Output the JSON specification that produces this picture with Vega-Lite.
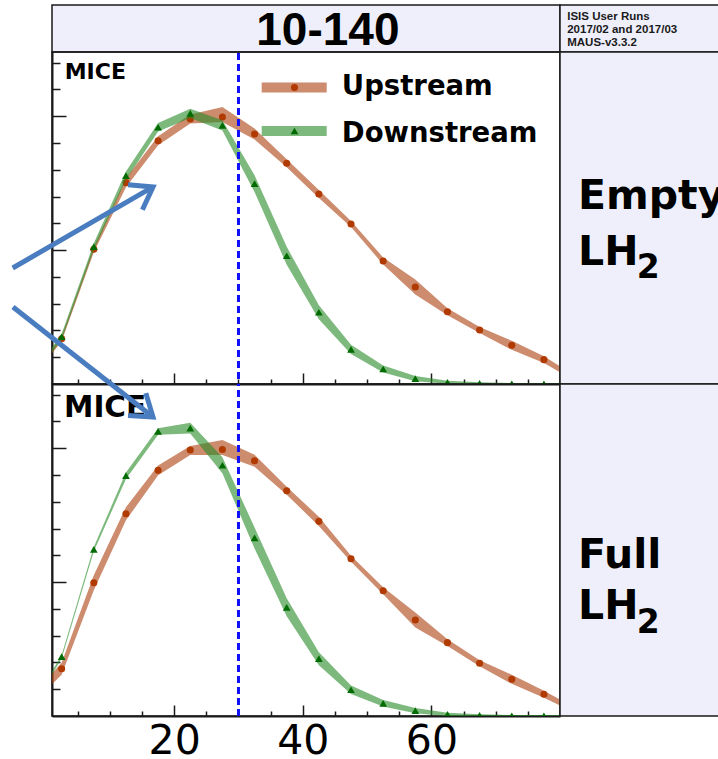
{
  "$schema": "https://vega.github.io/schema/vega-lite/v6.json",
  "background": "white",
  "padding": {"left": 1, "top": 4, "right": 0, "bottom": 0},
  "columns": 2,
  "spacing": 0,
  "bounds": "flush",
  "config": {
    "view": {"stroke": "#1a1a1a", "strokeWidth": 1.5},
    "text": {"font": "DejaVu Sans", "color": "#000000"},
    "axis": {"title": null, "grid": false, "domainColor": "#1a1a1a", "domainWidth": 2, "tickColor": "#1a1a1a", "tickWidth": 1.5, "labelOverlap": false, "labelFlush": false}
  },
  "datasets": {
    "curves": [
      {"p": "Empty", "s": "Upstream", "x": -2.5, "y": 3, "lo": 1.5, "hi": 4.5},
      {"p": "Empty", "s": "Upstream", "x": 2.5, "y": 33.8, "lo": 31.9, "hi": 35.7},
      {"p": "Empty", "s": "Upstream", "x": 7.5, "y": 100.6, "lo": 98.4, "hi": 102.8},
      {"p": "Empty", "s": "Upstream", "x": 12.5, "y": 150.4, "lo": 147.0, "hi": 153.8},
      {"p": "Empty", "s": "Upstream", "x": 17.5, "y": 181.7, "lo": 178.3, "hi": 185.1},
      {"p": "Empty", "s": "Upstream", "x": 22.5, "y": 198.0, "lo": 194.6, "hi": 201.4},
      {"p": "Empty", "s": "Upstream", "x": 27.5, "y": 199.4, "lo": 195.7, "hi": 206.9},
      {"p": "Empty", "s": "Upstream", "x": 32.5, "y": 186.7, "lo": 182.6, "hi": 190.8},
      {"p": "Empty", "s": "Upstream", "x": 37.5, "y": 164.9, "lo": 161.9, "hi": 167.9},
      {"p": "Empty", "s": "Upstream", "x": 42.5, "y": 141.9, "lo": 138.9, "hi": 144.9},
      {"p": "Empty", "s": "Upstream", "x": 47.5, "y": 119.5, "lo": 117.3, "hi": 121.7},
      {"p": "Empty", "s": "Upstream", "x": 52.5, "y": 91.9, "lo": 89.3, "hi": 94.5},
      {"p": "Empty", "s": "Upstream", "x": 57.5, "y": 72.5, "lo": 66.9, "hi": 78.1},
      {"p": "Empty", "s": "Upstream", "x": 62.5, "y": 54.0, "lo": 51.4, "hi": 56.6},
      {"p": "Empty", "s": "Upstream", "x": 67.5, "y": 40.3, "lo": 38.1, "hi": 42.5},
      {"p": "Empty", "s": "Upstream", "x": 72.5, "y": 28.9, "lo": 25.5, "hi": 32.3},
      {"p": "Empty", "s": "Upstream", "x": 77.5, "y": 18.2, "lo": 15.6, "hi": 20.8},
      {"p": "Empty", "s": "Upstream", "x": 82.5, "y": 4, "lo": 2.1, "hi": 5.9},
      {"p": "Empty", "s": "Downstream", "x": -2.5, "y": 3, "lo": 1.9, "hi": 4.1},
      {"p": "Empty", "s": "Downstream", "x": 2.5, "y": 35.3, "lo": 33.1, "hi": 37.5},
      {"p": "Empty", "s": "Downstream", "x": 7.5, "y": 102.6, "lo": 100.1, "hi": 105.1},
      {"p": "Empty", "s": "Downstream", "x": 12.5, "y": 155.6, "lo": 152.5, "hi": 158.7},
      {"p": "Empty", "s": "Downstream", "x": 17.5, "y": 191.8, "lo": 188.6, "hi": 195.0},
      {"p": "Empty", "s": "Downstream", "x": 22.5, "y": 202.2, "lo": 198.7, "hi": 205.7},
      {"p": "Empty", "s": "Downstream", "x": 27.5, "y": 193.2, "lo": 189.3, "hi": 197.1},
      {"p": "Empty", "s": "Downstream", "x": 32.5, "y": 149.7, "lo": 143.4, "hi": 156.0},
      {"p": "Empty", "s": "Downstream", "x": 37.5, "y": 95.8, "lo": 89.1, "hi": 102.5},
      {"p": "Empty", "s": "Downstream", "x": 42.5, "y": 53.6, "lo": 48.4, "hi": 58.8},
      {"p": "Empty", "s": "Downstream", "x": 47.5, "y": 25.9, "lo": 22.4, "hi": 29.4},
      {"p": "Empty", "s": "Downstream", "x": 52.5, "y": 11.2, "lo": 8.6, "hi": 13.8},
      {"p": "Empty", "s": "Downstream", "x": 57.5, "y": 4.0, "lo": 2.1, "hi": 5.9},
      {"p": "Empty", "s": "Downstream", "x": 62.5, "y": 1.3, "lo": 0.2, "hi": 2.4},
      {"p": "Empty", "s": "Downstream", "x": 67.5, "y": 0.5, "lo": -0.25, "hi": 1.25},
      {"p": "Empty", "s": "Downstream", "x": 72.5, "y": 0.2, "lo": -0.36, "hi": 0.76},
      {"p": "Empty", "s": "Downstream", "x": 77.5, "y": 0.1, "lo": -0.46, "hi": 0.66},
      {"p": "Empty", "s": "Downstream", "x": 82.5, "y": 0.05, "lo": -0.5, "hi": 0.6},
      {"p": "Full", "s": "Upstream", "x": -2.5, "y": 10, "lo": 7, "hi": 13},
      {"p": "Full", "s": "Upstream", "x": 2.5, "y": 35.3, "lo": 30.8, "hi": 39.8},
      {"p": "Full", "s": "Upstream", "x": 7.5, "y": 99.6, "lo": 94.0, "hi": 105.2},
      {"p": "Full", "s": "Upstream", "x": 12.5, "y": 151.1, "lo": 146.2, "hi": 156.0},
      {"p": "Full", "s": "Upstream", "x": 17.5, "y": 183.5, "lo": 179.8, "hi": 187.2},
      {"p": "Full", "s": "Upstream", "x": 22.5, "y": 198.7, "lo": 195.0, "hi": 201.7},
      {"p": "Full", "s": "Upstream", "x": 27.5, "y": 199.1, "lo": 195.0, "hi": 206.2},
      {"p": "Full", "s": "Upstream", "x": 32.5, "y": 190.7, "lo": 186.2, "hi": 195.2},
      {"p": "Full", "s": "Upstream", "x": 37.5, "y": 168.3, "lo": 165.3, "hi": 171.3},
      {"p": "Full", "s": "Upstream", "x": 42.5, "y": 145.4, "lo": 142.0, "hi": 148.8},
      {"p": "Full", "s": "Upstream", "x": 47.5, "y": 117.5, "lo": 115.3, "hi": 119.7},
      {"p": "Full", "s": "Upstream", "x": 52.5, "y": 93.6, "lo": 91.0, "hi": 96.2},
      {"p": "Full", "s": "Upstream", "x": 57.5, "y": 71.7, "lo": 66.1, "hi": 77.3},
      {"p": "Full", "s": "Upstream", "x": 62.5, "y": 54.8, "lo": 52.2, "hi": 57.4},
      {"p": "Full", "s": "Upstream", "x": 67.5, "y": 39.4, "lo": 37.2, "hi": 41.6},
      {"p": "Full", "s": "Upstream", "x": 72.5, "y": 27.4, "lo": 24.0, "hi": 30.8},
      {"p": "Full", "s": "Upstream", "x": 77.5, "y": 16.2, "lo": 13.6, "hi": 18.8},
      {"p": "Full", "s": "Upstream", "x": 82.5, "y": 4, "lo": 2.1, "hi": 5.9},
      {"p": "Full", "s": "Downstream", "x": -2.5, "y": 4, "lo": 3.25, "hi": 4.75},
      {"p": "Full", "s": "Downstream", "x": 2.5, "y": 44.3, "lo": 43.0, "hi": 45.6},
      {"p": "Full", "s": "Downstream", "x": 7.5, "y": 124.5, "lo": 122.8, "hi": 126.2},
      {"p": "Full", "s": "Downstream", "x": 12.5, "y": 179.5, "lo": 177.1, "hi": 181.9},
      {"p": "Full", "s": "Downstream", "x": 17.5, "y": 212.6, "lo": 210.0, "hi": 215.0},
      {"p": "Full", "s": "Downstream", "x": 22.5, "y": 215.0, "lo": 211.0, "hi": 219.0},
      {"p": "Full", "s": "Downstream", "x": 27.5, "y": 187.3, "lo": 181.3, "hi": 193.3},
      {"p": "Full", "s": "Downstream", "x": 32.5, "y": 133.0, "lo": 125.2, "hi": 140.8},
      {"p": "Full", "s": "Downstream", "x": 37.5, "y": 81.2, "lo": 74.5, "hi": 87.9},
      {"p": "Full", "s": "Downstream", "x": 42.5, "y": 42.8, "lo": 37.9, "hi": 47.7},
      {"p": "Full", "s": "Downstream", "x": 47.5, "y": 19.6, "lo": 16.4, "hi": 22.8},
      {"p": "Full", "s": "Downstream", "x": 52.5, "y": 9.5, "lo": 7.1, "hi": 11.9},
      {"p": "Full", "s": "Downstream", "x": 57.5, "y": 4.0, "lo": 2.1, "hi": 5.9},
      {"p": "Full", "s": "Downstream", "x": 62.5, "y": 1.2, "lo": -0.1, "hi": 2.5},
      {"p": "Full", "s": "Downstream", "x": 67.5, "y": 0.5, "lo": -0.4, "hi": 1.4},
      {"p": "Full", "s": "Downstream", "x": 72.5, "y": 0.2, "lo": -0.36, "hi": 0.76},
      {"p": "Full", "s": "Downstream", "x": 77.5, "y": 0.1, "lo": -0.46, "hi": 0.66},
      {"p": "Full", "s": "Downstream", "x": 82.5, "y": 0.05, "lo": -0.5, "hi": 0.6}
    ],
    "arrows": [
      {"p": "Empty", "part": "shaft", "k": 0, "x": -5.11, "y": 86.65},
      {"p": "Empty", "part": "shaft", "k": 1, "x": 16.71, "y": 147.2},
      {"p": "Empty", "part": "head", "k": 0, "x": 12.82, "y": 148.8},
      {"p": "Empty", "part": "head", "k": 1, "x": 16.71, "y": 147.2},
      {"p": "Empty", "part": "head", "k": 2, "x": 15.06, "y": 130.2},
      {"p": "Full", "part": "shaft", "k": 0, "x": -5.07, "y": 305.5},
      {"p": "Full", "part": "shaft", "k": 1, "x": 16.71, "y": 223.3},
      {"p": "Full", "part": "head", "k": 0, "x": 15.59, "y": 241.2},
      {"p": "Full", "part": "head", "k": 1, "x": 16.71, "y": 223.3},
      {"p": "Full", "part": "head", "k": 2, "x": 12.82, "y": 224.4}
    ]
  },
  "concat": [
    {
      "width": 508, "height": 47,
      "view": {"fill": "#efeffb"},
      "data": {"values": [{"t": "10-140"}]},
      "mark": {"type": "text", "font": "Liberation Sans", "fontWeight": "bold", "fontSize": 46, "align": "center", "baseline": "alphabetic"},
      "encoding": {
        "text": {"field": "t"},
        "x": {"datum": 0.543, "type": "quantitative", "scale": {"domain": [0, 1]}, "axis": null},
        "y": {"datum": 0.14, "type": "quantitative", "scale": {"domain": [0, 1]}, "axis": null}
      }
    },
    {
      "width": 160, "height": 47,
      "view": {"fill": "#efeffb"},
      "data": {"values": [{}]},
      "mark": {"type": "text", "text": ["ISIS User Runs", "2017/02 and 2017/03", "MAUS-v3.3.2"], "font": "Liberation Sans", "fontWeight": "bold", "fontSize": 11.5, "lineHeight": 13.3, "align": "left", "baseline": "alphabetic", "color": "#1a1a1a"},
      "encoding": {
        "x": {"datum": 0.045, "type": "quantitative", "scale": {"domain": [0, 1]}, "axis": null},
        "y": {"datum": 0.69, "type": "quantitative", "scale": {"domain": [0, 1]}, "axis": null}
      }
    },
    {
      "width": 508, "height": 332,
      "layer": [
        {
          "data": {"name": "curves"},
          "transform": [{"filter": "datum.p === 'Empty' && datum.s === 'Upstream'"}],
          "mark": {"type": "area", "clip": true, "color": "#ac3f0d", "opacity": 0.6},
          "encoding": {
            "x": {"field": "x", "type": "quantitative", "scale": {"domain": [1, 80], "nice": false, "zero": false}, "axis": {"title": null, "labels": false, "values": [5, 10, 15, 20, 25, 30, 35, 40, 45, 50, 55, 60, 65, 70, 75], "tickSize": {"condition": {"test": "datum.value % 20 === 0", "value": -11}, "value": -5}}},
            "y": {"field": "lo", "type": "quantitative", "scale": {"domain": [0, 248], "nice": false, "zero": false}, "axis": {"title": null, "labels": false, "values": [20, 40, 60, 80, 100, 120, 140, 160, 180, 200, 220, 240], "tickSize": {"condition": {"test": "datum.value % 100 === 0", "value": -14}, "value": -8}}},
            "y2": {"field": "hi"}
          }
        },
        {
          "data": {"name": "curves"},
          "transform": [{"filter": "datum.p === 'Empty' && datum.s === 'Upstream'"}],
          "mark": {"type": "point", "shape": "circle", "filled": true, "size": 50, "opacity": 1, "color": "#b03a00", "clip": true},
          "encoding": {
            "x": {"field": "x", "type": "quantitative", "scale": {"domain": [1, 80], "nice": false, "zero": false}, "axis": {"title": null, "labels": false, "values": [5, 10, 15, 20, 25, 30, 35, 40, 45, 50, 55, 60, 65, 70, 75], "tickSize": {"condition": {"test": "datum.value % 20 === 0", "value": -11}, "value": -5}}},
            "y": {"field": "y", "type": "quantitative", "scale": {"domain": [0, 248], "nice": false, "zero": false}, "axis": {"title": null, "labels": false, "values": [20, 40, 60, 80, 100, 120, 140, 160, 180, 200, 220, 240], "tickSize": {"condition": {"test": "datum.value % 100 === 0", "value": -14}, "value": -8}}}
          }
        },
        {
          "data": {"name": "curves"},
          "transform": [{"filter": "datum.p === 'Empty' && datum.s === 'Downstream'"}],
          "mark": {"type": "area", "clip": true, "color": "#268a26", "opacity": 0.6},
          "encoding": {
            "x": {"field": "x", "type": "quantitative", "scale": {"domain": [1, 80], "nice": false, "zero": false}, "axis": {"title": null, "labels": false, "values": [5, 10, 15, 20, 25, 30, 35, 40, 45, 50, 55, 60, 65, 70, 75], "tickSize": {"condition": {"test": "datum.value % 20 === 0", "value": -11}, "value": -5}}},
            "y": {"field": "lo", "type": "quantitative", "scale": {"domain": [0, 248], "nice": false, "zero": false}, "axis": {"title": null, "labels": false, "values": [20, 40, 60, 80, 100, 120, 140, 160, 180, 200, 220, 240], "tickSize": {"condition": {"test": "datum.value % 100 === 0", "value": -14}, "value": -8}}},
            "y2": {"field": "hi"}
          }
        },
        {
          "data": {"name": "curves"},
          "transform": [{"filter": "datum.p === 'Empty' && datum.s === 'Downstream'"}],
          "mark": {"type": "point", "shape": "triangle-up", "filled": true, "size": 60, "opacity": 1, "color": "#006b00", "clip": true},
          "encoding": {
            "x": {"field": "x", "type": "quantitative", "scale": {"domain": [1, 80], "nice": false, "zero": false}, "axis": {"title": null, "labels": false, "values": [5, 10, 15, 20, 25, 30, 35, 40, 45, 50, 55, 60, 65, 70, 75], "tickSize": {"condition": {"test": "datum.value % 20 === 0", "value": -11}, "value": -5}}},
            "y": {"field": "y", "type": "quantitative", "scale": {"domain": [0, 248], "nice": false, "zero": false}, "axis": {"title": null, "labels": false, "values": [20, 40, 60, 80, 100, 120, 140, 160, 180, 200, 220, 240], "tickSize": {"condition": {"test": "datum.value % 100 === 0", "value": -14}, "value": -8}}}
          }
        },
        {
          "data": {"values": [{}]},
          "mark": {"type": "rule", "color": "#1010ff", "strokeWidth": 3, "strokeDash": [7, 4], "strokeDashOffset": -5},
          "encoding": {
            "x": {"datum": 30, "type": "quantitative", "scale": {"domain": [1, 80], "nice": false, "zero": false}, "axis": {"title": null, "labels": false, "values": [5, 10, 15, 20, 25, 30, 35, 40, 45, 50, 55, 60, 65, 70, 75], "tickSize": {"condition": {"test": "datum.value % 20 === 0", "value": -11}, "value": -5}}},
            "y": {"datum": 0, "type": "quantitative", "scale": {"domain": [0, 248], "nice": false, "zero": false}, "axis": {"title": null, "labels": false, "values": [20, 40, 60, 80, 100, 120, 140, 160, 180, 200, 220, 240], "tickSize": {"condition": {"test": "datum.value % 100 === 0", "value": -14}, "value": -8}}},
            "y2": {"datum": 248}
          }
        },
        {
          "data": {"values": [{"t": "MICE"}]},
          "mark": {"type": "text", "fontWeight": "bold", "fontSize": 22, "align": "left", "baseline": "alphabetic"},
          "encoding": {
            "text": {"field": "t"},
            "x": {"datum": 2.975, "type": "quantitative", "scale": {"domain": [1, 80], "nice": false, "zero": false}, "axis": {"title": null, "labels": false, "values": [5, 10, 15, 20, 25, 30, 35, 40, 45, 50, 55, 60, 65, 70, 75], "tickSize": {"condition": {"test": "datum.value % 20 === 0", "value": -11}, "value": -5}}},
            "y": {"datum": 227.6, "type": "quantitative", "scale": {"domain": [0, 248], "nice": false, "zero": false}, "axis": {"title": null, "labels": false, "values": [20, 40, 60, 80, 100, 120, 140, 160, 180, 200, 220, 240], "tickSize": {"condition": {"test": "datum.value % 100 === 0", "value": -14}, "value": -8}}}
          }
        },
        {
          "data": {"values": [{"t": "Upstream"}]},
          "mark": {"type": "rule", "strokeWidth": 10, "strokeCap": "butt", "color": "#ac3f0d", "opacity": 0.6},
          "encoding": {
            "x": {"datum": 33.61, "type": "quantitative", "scale": {"domain": [1, 80], "nice": false, "zero": false}, "axis": {"title": null, "labels": false, "values": [5, 10, 15, 20, 25, 30, 35, 40, 45, 50, 55, 60, 65, 70, 75], "tickSize": {"condition": {"test": "datum.value % 20 === 0", "value": -11}, "value": -5}}},
            "x2": {"datum": 43.72},
            "y": {"datum": 221.5, "type": "quantitative", "scale": {"domain": [0, 248], "nice": false, "zero": false}, "axis": {"title": null, "labels": false, "values": [20, 40, 60, 80, 100, 120, 140, 160, 180, 200, 220, 240], "tickSize": {"condition": {"test": "datum.value % 100 === 0", "value": -14}, "value": -8}}}
          }
        },
        {
          "data": {"values": [{"t": "Upstream"}]},
          "mark": {"type": "point", "shape": "circle", "filled": true, "size": 50, "opacity": 1, "color": "#b03a00"},
          "encoding": {
            "x": {"datum": 38.71, "type": "quantitative", "scale": {"domain": [1, 80], "nice": false, "zero": false}, "axis": {"title": null, "labels": false, "values": [5, 10, 15, 20, 25, 30, 35, 40, 45, 50, 55, 60, 65, 70, 75], "tickSize": {"condition": {"test": "datum.value % 20 === 0", "value": -11}, "value": -5}}},
            "y": {"datum": 221.5, "type": "quantitative", "scale": {"domain": [0, 248], "nice": false, "zero": false}, "axis": {"title": null, "labels": false, "values": [20, 40, 60, 80, 100, 120, 140, 160, 180, 200, 220, 240], "tickSize": {"condition": {"test": "datum.value % 100 === 0", "value": -14}, "value": -8}}}
          }
        },
        {
          "data": {"values": [{"t": "Upstream"}]},
          "mark": {"type": "text", "fontWeight": "bold", "fontSize": 27.5, "align": "left", "baseline": "alphabetic"},
          "encoding": {
            "text": {"field": "t"},
            "x": {"datum": 46.07, "type": "quantitative", "scale": {"domain": [1, 80], "nice": false, "zero": false}, "axis": {"title": null, "labels": false, "values": [5, 10, 15, 20, 25, 30, 35, 40, 45, 50, 55, 60, 65, 70, 75], "tickSize": {"condition": {"test": "datum.value % 20 === 0", "value": -11}, "value": -5}}},
            "y": {"datum": 215.9, "type": "quantitative", "scale": {"domain": [0, 248], "nice": false, "zero": false}, "axis": {"title": null, "labels": false, "values": [20, 40, 60, 80, 100, 120, 140, 160, 180, 200, 220, 240], "tickSize": {"condition": {"test": "datum.value % 100 === 0", "value": -14}, "value": -8}}}
          }
        },
        {
          "data": {"values": [{"t": "Downstream"}]},
          "mark": {"type": "rule", "strokeWidth": 10, "strokeCap": "butt", "color": "#268a26", "opacity": 0.6},
          "encoding": {
            "x": {"datum": 33.61, "type": "quantitative", "scale": {"domain": [1, 80], "nice": false, "zero": false}, "axis": {"title": null, "labels": false, "values": [5, 10, 15, 20, 25, 30, 35, 40, 45, 50, 55, 60, 65, 70, 75], "tickSize": {"condition": {"test": "datum.value % 20 === 0", "value": -11}, "value": -5}}},
            "x2": {"datum": 43.72},
            "y": {"datum": 189.0, "type": "quantitative", "scale": {"domain": [0, 248], "nice": false, "zero": false}, "axis": {"title": null, "labels": false, "values": [20, 40, 60, 80, 100, 120, 140, 160, 180, 200, 220, 240], "tickSize": {"condition": {"test": "datum.value % 100 === 0", "value": -14}, "value": -8}}}
          }
        },
        {
          "data": {"values": [{"t": "Downstream"}]},
          "mark": {"type": "point", "shape": "triangle-up", "filled": true, "size": 60, "opacity": 1, "color": "#006b00"},
          "encoding": {
            "x": {"datum": 38.71, "type": "quantitative", "scale": {"domain": [1, 80], "nice": false, "zero": false}, "axis": {"title": null, "labels": false, "values": [5, 10, 15, 20, 25, 30, 35, 40, 45, 50, 55, 60, 65, 70, 75], "tickSize": {"condition": {"test": "datum.value % 20 === 0", "value": -11}, "value": -5}}},
            "y": {"datum": 189.0, "type": "quantitative", "scale": {"domain": [0, 248], "nice": false, "zero": false}, "axis": {"title": null, "labels": false, "values": [20, 40, 60, 80, 100, 120, 140, 160, 180, 200, 220, 240], "tickSize": {"condition": {"test": "datum.value % 100 === 0", "value": -14}, "value": -8}}}
          }
        },
        {
          "data": {"values": [{"t": "Downstream"}]},
          "mark": {"type": "text", "fontWeight": "bold", "fontSize": 27.5, "align": "left", "baseline": "alphabetic"},
          "encoding": {
            "text": {"field": "t"},
            "x": {"datum": 46.07, "type": "quantitative", "scale": {"domain": [1, 80], "nice": false, "zero": false}, "axis": {"title": null, "labels": false, "values": [5, 10, 15, 20, 25, 30, 35, 40, 45, 50, 55, 60, 65, 70, 75], "tickSize": {"condition": {"test": "datum.value % 20 === 0", "value": -11}, "value": -5}}},
            "y": {"datum": 181.0, "type": "quantitative", "scale": {"domain": [0, 248], "nice": false, "zero": false}, "axis": {"title": null, "labels": false, "values": [20, 40, 60, 80, 100, 120, 140, 160, 180, 200, 220, 240], "tickSize": {"condition": {"test": "datum.value % 100 === 0", "value": -14}, "value": -8}}}
          }
        },
        {
          "data": {"name": "arrows"},
          "transform": [{"filter": "datum.p === 'Empty'"}],
          "mark": {"type": "line", "color": "#4a7cc0", "strokeWidth": 5, "strokeCap": "butt", "strokeJoin": "miter"},
          "encoding": {
            "x": {"field": "x", "type": "quantitative", "scale": {"domain": [1, 80], "nice": false, "zero": false}, "axis": {"title": null, "labels": false, "values": [5, 10, 15, 20, 25, 30, 35, 40, 45, 50, 55, 60, 65, 70, 75], "tickSize": {"condition": {"test": "datum.value % 20 === 0", "value": -11}, "value": -5}}},
            "y": {"field": "y", "type": "quantitative", "scale": {"domain": [0, 248], "nice": false, "zero": false}, "axis": {"title": null, "labels": false, "values": [20, 40, 60, 80, 100, 120, 140, 160, 180, 200, 220, 240], "tickSize": {"condition": {"test": "datum.value % 100 === 0", "value": -14}, "value": -8}}},
            "detail": {"field": "part"},
            "order": {"field": "k"}
          }
        }
      ]
    },
    {
      "width": 160, "height": 332,
      "view": {"fill": "#efeffb"},
      "data": {"values": [{}]},
      "encoding": {
        "x": {"datum": 0.1125, "type": "quantitative", "scale": {"domain": [0, 1]}, "axis": null},
        "y": {"datum": 0.526, "type": "quantitative", "scale": {"domain": [0, 1]}, "axis": null}
      },
      "layer": [
        {"mark": {"type": "text", "text": "Empty", "fontWeight": "bold", "fontSize": 41, "align": "left", "baseline": "alphabetic", "clip": true}},
        {"mark": {"type": "text", "text": "LH", "fontWeight": "bold", "fontSize": 41, "align": "left", "baseline": "alphabetic", "clip": true},
          "encoding": {"y": {"datum": 0.358, "type": "quantitative"}}},
        {"mark": {"type": "text", "text": "2", "fontWeight": "bold", "fontSize": 33, "align": "left", "baseline": "alphabetic", "clip": true},
          "encoding": {"x": {"datum": 0.48, "type": "quantitative"}, "y": {"datum": 0.319, "type": "quantitative"}}}
      ]
    },
    {
      "width": 508, "height": 332,
      "layer": [
        {
          "data": {"name": "curves"},
          "transform": [{"filter": "datum.p === 'Full' && datum.s === 'Upstream'"}],
          "mark": {"type": "area", "clip": true, "color": "#ac3f0d", "opacity": 0.6},
          "encoding": {
            "x": {"field": "x", "type": "quantitative", "scale": {"domain": [1, 80], "nice": false, "zero": false}, "axis": {"title": null, "values": [5, 10, 15, 20, 25, 30, 35, 40, 45, 50, 55, 60, 65, 70, 75], "tickSize": {"condition": {"test": "datum.value % 20 === 0", "value": -11}, "value": -5}, "labelExpr": "datum.value % 20 === 0 ? datum.label : ''", "labelFont": "DejaVu Sans", "labelFontSize": 41, "labelColor": "#000000", "labelPadding": 16}},
            "y": {"field": "lo", "type": "quantitative", "scale": {"domain": [0, 248], "nice": false, "zero": false}, "axis": {"title": null, "labels": false, "values": [20, 40, 60, 80, 100, 120, 140, 160, 180, 200, 220, 240], "tickSize": {"condition": {"test": "datum.value % 100 === 0", "value": -14}, "value": -8}}},
            "y2": {"field": "hi"}
          }
        },
        {
          "data": {"name": "curves"},
          "transform": [{"filter": "datum.p === 'Full' && datum.s === 'Upstream'"}],
          "mark": {"type": "point", "shape": "circle", "filled": true, "size": 50, "opacity": 1, "color": "#b03a00", "clip": true},
          "encoding": {
            "x": {"field": "x", "type": "quantitative", "scale": {"domain": [1, 80], "nice": false, "zero": false}, "axis": {"title": null, "values": [5, 10, 15, 20, 25, 30, 35, 40, 45, 50, 55, 60, 65, 70, 75], "tickSize": {"condition": {"test": "datum.value % 20 === 0", "value": -11}, "value": -5}, "labelExpr": "datum.value % 20 === 0 ? datum.label : ''", "labelFont": "DejaVu Sans", "labelFontSize": 41, "labelColor": "#000000", "labelPadding": 16}},
            "y": {"field": "y", "type": "quantitative", "scale": {"domain": [0, 248], "nice": false, "zero": false}, "axis": {"title": null, "labels": false, "values": [20, 40, 60, 80, 100, 120, 140, 160, 180, 200, 220, 240], "tickSize": {"condition": {"test": "datum.value % 100 === 0", "value": -14}, "value": -8}}}
          }
        },
        {
          "data": {"name": "curves"},
          "transform": [{"filter": "datum.p === 'Full' && datum.s === 'Downstream'"}],
          "mark": {"type": "area", "clip": true, "color": "#268a26", "opacity": 0.6},
          "encoding": {
            "x": {"field": "x", "type": "quantitative", "scale": {"domain": [1, 80], "nice": false, "zero": false}, "axis": {"title": null, "values": [5, 10, 15, 20, 25, 30, 35, 40, 45, 50, 55, 60, 65, 70, 75], "tickSize": {"condition": {"test": "datum.value % 20 === 0", "value": -11}, "value": -5}, "labelExpr": "datum.value % 20 === 0 ? datum.label : ''", "labelFont": "DejaVu Sans", "labelFontSize": 41, "labelColor": "#000000", "labelPadding": 16}},
            "y": {"field": "lo", "type": "quantitative", "scale": {"domain": [0, 248], "nice": false, "zero": false}, "axis": {"title": null, "labels": false, "values": [20, 40, 60, 80, 100, 120, 140, 160, 180, 200, 220, 240], "tickSize": {"condition": {"test": "datum.value % 100 === 0", "value": -14}, "value": -8}}},
            "y2": {"field": "hi"}
          }
        },
        {
          "data": {"name": "curves"},
          "transform": [{"filter": "datum.p === 'Full' && datum.s === 'Downstream'"}],
          "mark": {"type": "point", "shape": "triangle-up", "filled": true, "size": 60, "opacity": 1, "color": "#006b00", "clip": true},
          "encoding": {
            "x": {"field": "x", "type": "quantitative", "scale": {"domain": [1, 80], "nice": false, "zero": false}, "axis": {"title": null, "values": [5, 10, 15, 20, 25, 30, 35, 40, 45, 50, 55, 60, 65, 70, 75], "tickSize": {"condition": {"test": "datum.value % 20 === 0", "value": -11}, "value": -5}, "labelExpr": "datum.value % 20 === 0 ? datum.label : ''", "labelFont": "DejaVu Sans", "labelFontSize": 41, "labelColor": "#000000", "labelPadding": 16}},
            "y": {"field": "y", "type": "quantitative", "scale": {"domain": [0, 248], "nice": false, "zero": false}, "axis": {"title": null, "labels": false, "values": [20, 40, 60, 80, 100, 120, 140, 160, 180, 200, 220, 240], "tickSize": {"condition": {"test": "datum.value % 100 === 0", "value": -14}, "value": -8}}}
          }
        },
        {
          "data": {"values": [{}]},
          "mark": {"type": "rule", "color": "#1010ff", "strokeWidth": 3, "strokeDash": [7, 4]},
          "encoding": {
            "x": {"datum": 30, "type": "quantitative", "scale": {"domain": [1, 80], "nice": false, "zero": false}, "axis": {"title": null, "values": [5, 10, 15, 20, 25, 30, 35, 40, 45, 50, 55, 60, 65, 70, 75], "tickSize": {"condition": {"test": "datum.value % 20 === 0", "value": -11}, "value": -5}, "labelExpr": "datum.value % 20 === 0 ? datum.label : ''", "labelFont": "DejaVu Sans", "labelFontSize": 41, "labelColor": "#000000", "labelPadding": 16}},
            "y": {"datum": 0, "type": "quantitative", "scale": {"domain": [0, 248], "nice": false, "zero": false}, "axis": {"title": null, "labels": false, "values": [20, 40, 60, 80, 100, 120, 140, 160, 180, 200, 220, 240], "tickSize": {"condition": {"test": "datum.value % 100 === 0", "value": -14}, "value": -8}}},
            "y2": {"datum": 248}
          }
        },
        {
          "data": {"values": [{"t": "MICE"}]},
          "mark": {"type": "text", "fontWeight": "bold", "fontSize": 29.5, "align": "left", "baseline": "alphabetic"},
          "encoding": {
            "text": {"field": "t"},
            "x": {"datum": 2.87, "type": "quantitative", "scale": {"domain": [1, 80], "nice": false, "zero": false}, "axis": {"title": null, "values": [5, 10, 15, 20, 25, 30, 35, 40, 45, 50, 55, 60, 65, 70, 75], "tickSize": {"condition": {"test": "datum.value % 20 === 0", "value": -11}, "value": -5}, "labelExpr": "datum.value % 20 === 0 ? datum.label : ''", "labelFont": "DejaVu Sans", "labelFontSize": 41, "labelColor": "#000000", "labelPadding": 16}},
            "y": {"datum": 223.6, "type": "quantitative", "scale": {"domain": [0, 248], "nice": false, "zero": false}, "axis": {"title": null, "labels": false, "values": [20, 40, 60, 80, 100, 120, 140, 160, 180, 200, 220, 240], "tickSize": {"condition": {"test": "datum.value % 100 === 0", "value": -14}, "value": -8}}}
          }
        },
        {
          "data": {"name": "arrows"},
          "transform": [{"filter": "datum.p === 'Full'"}],
          "mark": {"type": "line", "color": "#4a7cc0", "strokeWidth": 5, "strokeCap": "butt", "strokeJoin": "miter"},
          "encoding": {
            "x": {"field": "x", "type": "quantitative", "scale": {"domain": [1, 80], "nice": false, "zero": false}, "axis": {"title": null, "values": [5, 10, 15, 20, 25, 30, 35, 40, 45, 50, 55, 60, 65, 70, 75], "tickSize": {"condition": {"test": "datum.value % 20 === 0", "value": -11}, "value": -5}, "labelExpr": "datum.value % 20 === 0 ? datum.label : ''", "labelFont": "DejaVu Sans", "labelFontSize": 41, "labelColor": "#000000", "labelPadding": 16}},
            "y": {"field": "y", "type": "quantitative", "scale": {"domain": [0, 248], "nice": false, "zero": false}, "axis": {"title": null, "labels": false, "values": [20, 40, 60, 80, 100, 120, 140, 160, 180, 200, 220, 240], "tickSize": {"condition": {"test": "datum.value % 100 === 0", "value": -14}, "value": -8}}},
            "detail": {"field": "part"},
            "order": {"field": "k"}
          }
        }
      ]
    },
    {
      "width": 160, "height": 332,
      "view": {"fill": "#efeffb"},
      "data": {"values": [{}]},
      "encoding": {
        "x": {"datum": 0.1125, "type": "quantitative", "scale": {"domain": [0, 1]}, "axis": null},
        "y": {"datum": 0.446, "type": "quantitative", "scale": {"domain": [0, 1]}, "axis": null}
      },
      "layer": [
        {"mark": {"type": "text", "text": "Full", "fontWeight": "bold", "fontSize": 41, "align": "left", "baseline": "alphabetic", "clip": true}},
        {"mark": {"type": "text", "text": "LH", "fontWeight": "bold", "fontSize": 41, "align": "left", "baseline": "alphabetic", "clip": true},
          "encoding": {"y": {"datum": 0.291, "type": "quantitative"}}},
        {"mark": {"type": "text", "text": "2", "fontWeight": "bold", "fontSize": 33, "align": "left", "baseline": "alphabetic", "clip": true},
          "encoding": {"x": {"datum": 0.48, "type": "quantitative"}, "y": {"datum": 0.249, "type": "quantitative"}}}
      ]
    }
  ]
}
